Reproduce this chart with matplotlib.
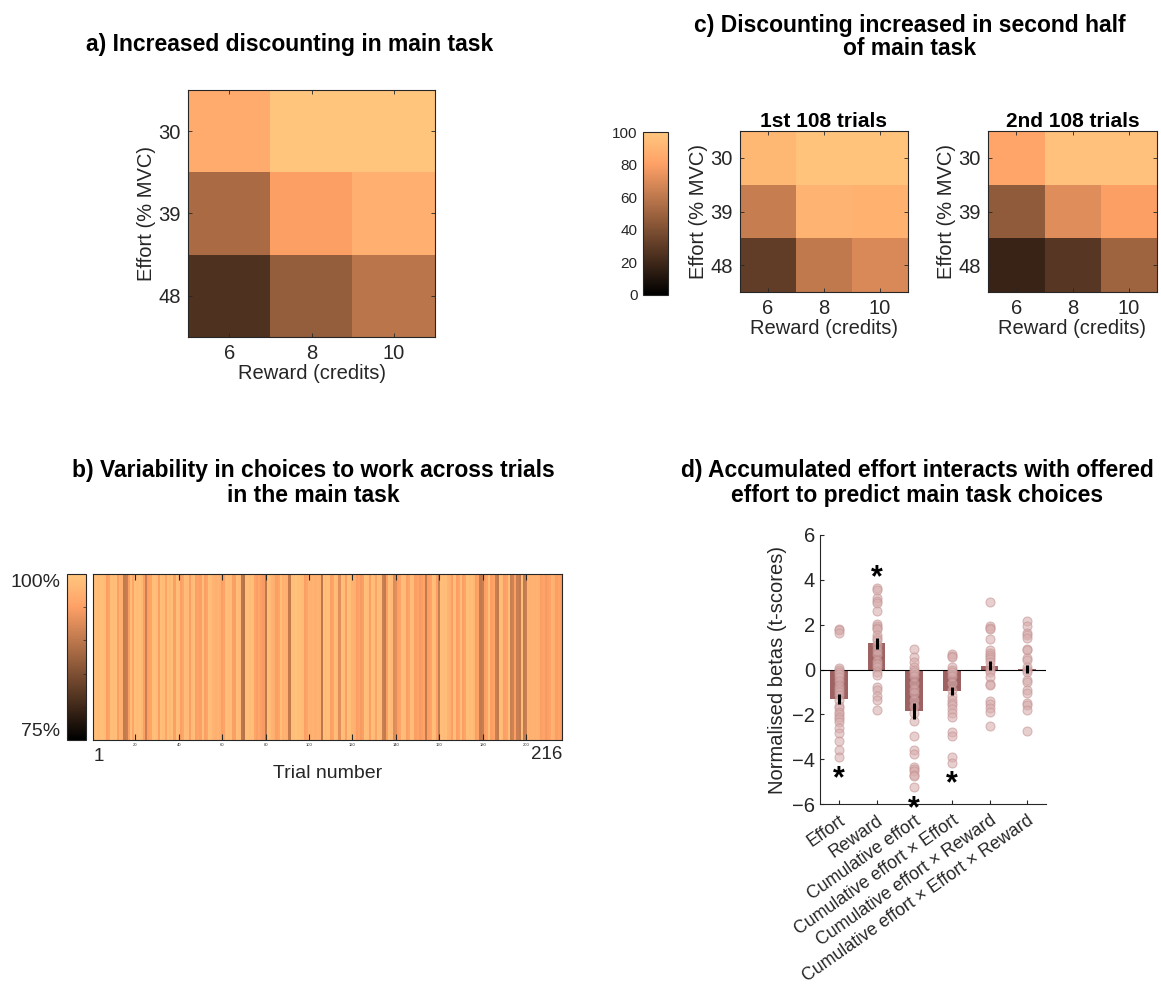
import numpy as np
import matplotlib
matplotlib.use('Agg')
import matplotlib.pyplot as plt
from matplotlib.colors import Normalize
from matplotlib.cm import ScalarMappable

plt.rcParams['font.family'] = ['Liberation Sans', 'DejaVu Sans']
plt.rcParams['axes.linewidth'] = 0.8

TXT = '#262626'
TITLE_FS = 16.5
LABEL_FS = 14.5

# ---------------- data ----------------
rewards = ['6', '8', '10']
efforts = ['30', '39', '48']
choice_main = [[86, 99, 99],
               [54, 80, 88],
               [25, 47, 59]]
choice_first = [[92, 98, 98],
                [63, 90, 89],
                [31, 61, 69]]
choice_second = [[83, 97, 97],
                 [46, 71, 80],
                 [18, 28, 50]]

trial_choice = [
    .99, .99, .985, .99, .99, .985, .95, .955, .99, .985, .99, .95, .975, .97, .905, .91, .95, .99,
    .955, .99, .985, .99, .98, .95, .91, .95, .955, .99, .99, .985, .95, .99, .985, .955, .99, .98,
    .99, .95, .99, .985, .95, .96, .99, .985, .95, .985, .99, .95, .955, .95, .99, .95, .955, .99, .985,
    .975, .97, .975, .97, .95, .955, .99, .985, .99, .95, .95, .99, .985, .9, .895, .99, .99, .985, .99,
    .955, .95, .96, .95, .945, .9, .99, .985, .975, .97, .95, .955, .99, .97, .975, .97, .905, .99,
    .99, .995, .99, .99, .985, .95, .955, .975, .97, .975, .97, .975, .97, .9, .99, .985, .99,
    .95, .955, .99, .985, .93, .99, .985, .95, .99, .99, .975, .97, .95, .955, .945, .95, .99, .985,
    .95, .99, .985, .955, .99, .985, .91, .905, .95, .99, .985, .925, .93, .95, .955, .99, .985, .95,
    .955, .99, .985, .95, .955, .945, .95, .955, .905, .95, .955, .99, .985, .95, .91, .99, .985, .99,
    .975, .97, .95, .99, .95, .955, .99, .95, .955, .99, .985, .99, .98, .95, .955, .905, .91, .95,
    .955, .99, .95, .955, .91, .905, .99, .985, .95, .955, .99, .91, .915, .95, .91, .905, .99, .905,
    .91, .975, .97, .975, .97, .975, .97, .95, .955, .945, .95, .955, .975, .97, .95, .955, .95,
]
assert len(trial_choice) == 216

predictors = ['Effort', 'Reward', 'Cumulative effort', 'Cumulative effort × Effort',
              'Cumulative effort × Reward', 'Cumulative effort × Effort × Reward']
beta_means = [-1.32, 1.16, -1.86, -0.95, 0.16, 0.02]
beta_sems = [0.21, 0.25, 0.35, 0.19, 0.20, 0.18]
betas_effort = [1.8, 1.75, 1.64, 0.05, 0.0, -0.1, -0.2, -0.35, -0.5, -0.72, -0.85, -1.0, -1.15,
                -1.35, -1.65, -1.7, -1.9, -2.0, -2.1, -2.2, -2.35, -2.6, -2.85, -3.2, -3.6, -3.9]
betas_reward = [3.62, 3.55, 3.2, 3.05, 2.95, 2.6, 2.05, 1.95, 1.85, 1.8, 1.55, 1.4, 1.3, 1.1,
                0.85, 0.7, 0.4, 0.25, 0.1, -0.1, -0.25, -0.8, -0.9, -1.2, -1.35, -1.8]
betas_cum = [0.93, 0.55, 0.35, 0.1, 0.0, -0.1, -0.3, -0.6, -0.85, -1.05, -1.35, -1.65, -1.95,
             -2.3, -2.95, -3.6, -3.75, -4.35, -4.45, -4.55, -4.7, -4.75, -5.25]
betas_cum_eff = [0.7, 0.62, 0.55, 0.1, 0.0, -0.1, -0.3, -0.6, -0.9, -1.2, -1.35, -1.5, -1.6,
                 -1.75, -1.95, -2.1, -2.8, -2.95, -3.9, -4.15]
betas_cum_rew = [3.02, 1.92, 1.87, 1.82, 1.35, 0.85, 0.75, 0.65, 0.55, 0.45, 0.35, 0.1, 0.0,
                 -0.1, -0.35, -0.65, -0.7, -1.4, -1.55, -1.7, -1.9, -2.5]
betas_cum_eff_rew = [2.15, 1.95, 1.65, 1.55, 1.4, 0.93, 0.85, 0.5, 0.42, 0.1, 0.0, -0.1, -0.45,
                     -0.55, -0.9, -1.05, -1.5, -1.6, -1.8, -2.75]
significant = [True, True, True, True, False, False]

# ---------------- figure ----------------
W, H = 1161, 991
fig = plt.figure(figsize=(W / 100, H / 100), dpi=100)


def px_axes(x0, y0, x1, y1):
    return fig.add_axes([x0 / W, 1 - y1 / H, (x1 - x0) / W, (y1 - y0) / H])


def style_heat(ax):
    ax.set_xticks(range(3))
    ax.set_xticklabels(rewards)
    ax.set_yticks(range(3))
    ax.set_yticklabels(efforts)
    ax.tick_params(direction='in', length=3, top=True, right=True, labelsize=LABEL_FS,
                   colors=TXT, labelcolor=TXT, pad=5, width=0.6)
    for s in ax.spines.values():
        s.set_color(TXT)
    ax.set_xlabel('Reward (credits)', fontsize=LABEL_FS, color=TXT, labelpad=1)
    ax.set_ylabel('Effort (% MVC)', fontsize=LABEL_FS, color=TXT, labelpad=2)


# panel a
ax_a = px_axes(188, 90, 435, 337)
ax_a.imshow(np.array(choice_main), cmap='copper', vmin=0, vmax=100, aspect='auto',
            interpolation='nearest')
style_heat(ax_a)
fig.text(290 / W, 1 - 45 / H, 'a) Increased discounting in main task', ha='center', va='center',
         fontsize=TITLE_FS, fontweight='bold')

# panel c
cax_c = px_axes(643, 132, 668, 295)
cb = fig.colorbar(ScalarMappable(norm=Normalize(0, 100), cmap='copper'), cax=cax_c)
cb.set_ticks([0, 20, 40, 60, 80, 100])
cax_c.yaxis.set_ticks_position('left')
cax_c.tick_params(direction='in', length=0, labelsize=11, colors=TXT, pad=4)
cb.outline.set_edgecolor(TXT)
cb.outline.set_linewidth(0.8)

ax_c1 = px_axes(740, 131, 908, 292)
ax_c1.imshow(np.array(choice_first), cmap='copper', vmin=0, vmax=100, aspect='auto',
             interpolation='nearest')
style_heat(ax_c1)
ax_c1.set_title('1st 108 trials', fontsize=15, fontweight='bold', pad=3)

ax_c2 = px_axes(988, 131, 1157, 292)
ax_c2.imshow(np.array(choice_second), cmap='copper', vmin=0, vmax=100, aspect='auto',
             interpolation='nearest')
style_heat(ax_c2)
ax_c2.set_title('2nd 108 trials', fontsize=15, fontweight='bold', pad=3)

fig.text(910 / W, 1 - 37 / H, 'c) Discounting increased in second half\nof main task', ha='center',
         va='center', fontsize=TITLE_FS, fontweight='bold', linespacing=1.05)

# panel b
cax_b = px_axes(67, 574, 86, 740)
cbb = fig.colorbar(ScalarMappable(norm=Normalize(0.75, 1.0), cmap='copper'), cax=cax_b)
cbb.set_ticks([0.75, 0.80, 0.85, 0.90, 0.95, 1.0])
cbb.set_ticklabels(['75%', '', '', '', '', '100%'])
cax_b.yaxis.set_ticks_position('both')
cax_b.tick_params(direction='in', length=2, labelsize=14, colors=TXT, labelleft=True,
                  labelright=False, left=False, right=True, pad=5, width=0.5)
lbls = cax_b.get_yticklabels()
lbls[0].set_va('bottom')
lbls[-1].set_va('top')
cbb.outline.set_edgecolor(TXT)
cbb.outline.set_linewidth(0.8)

ax_b = px_axes(93, 574, 562, 740)
ax_b.imshow(np.array(trial_choice)[None, :], cmap='copper', vmin=0.75, vmax=1.0, aspect='auto',
            interpolation='nearest', extent=(0.5, 216.5, 0, 1))
ax_b.set_xlim(0.5, 216.5)
ax_b.set_ylim(0, 1)
ax_b.set_yticks([])
ax_b.set_xticks(np.arange(20, 201, 20))
ax_b.set_xticklabels([str(v) for v in range(20, 201, 20)], fontsize=3, color='#999999')
ax_b.tick_params(direction='in', length=4, top=True, colors=TXT, pad=2, width=0.8)
for s in ax_b.spines.values():
    s.set_color(TXT)
ax_b.text(1, -0.1, '1', ha='left', va='center', fontsize=13.5, color=TXT,
          transform=ax_b.get_xaxis_transform())
ax_b.text(216.5, -0.085, '216', ha='right', va='center', fontsize=13.5, color=TXT,
          transform=ax_b.get_xaxis_transform())
ax_b.set_xlabel('Trial number', fontsize=14, color=TXT, labelpad=13)
fig.text(313 / W, 1 - 483 / H, 'b) Variability in choices to work across trials\nin the main task',
         ha='center', va='center', fontsize=TITLE_FS, fontweight='bold', linespacing=1.1)

# panel d
ax_d = px_axes(820, 535, 1046, 804)
all_betas = [betas_effort, betas_reward, betas_cum, betas_cum_eff, betas_cum_rew, betas_cum_eff_rew]
xpos = np.arange(1, len(predictors) + 1)
ax_d.bar(xpos, beta_means, width=0.47, color='#9E6262', zorder=2)
for x, pts in zip(xpos, all_betas):
    ax_d.scatter(np.full(len(pts), x), pts, s=42, facecolor='#D8AFAF', edgecolor='#C59494',
                 alpha=0.6, linewidths=0.8, zorder=3)
ax_d.axhline(0, color='black', lw=0.8, zorder=2.5)
for x, m, se in zip(xpos, beta_means, beta_sems):
    ax_d.plot([x, x], [m - se, m + se], color='black', lw=2.2, zorder=4, solid_capstyle='butt')
for x, pts, m, sig in zip(xpos, all_betas, beta_means, significant):
    if sig:
        y = (max(pts) + 0.72) if m > 0 else (min(pts) - 0.72)
        # '*' glyph sits high in its box: shift so its centre lands on y
        ax_d.text(x, y - 0.26, '*', ha='center', va='center', fontsize=22, fontweight='bold',
                  zorder=5, clip_on=False)
ax_d.set_xlim(0.5, 6.5)
ax_d.set_ylim(-6, 6)
ax_d.set_yticks([-6, -4, -2, 0, 2, 4, 6])
ax_d.set_xticks(xpos)
ax_d.tick_params(direction='in', length=3, colors=TXT, labelsize=LABEL_FS, width=0.8)
ax_d.set_xticklabels(predictors, rotation=35, ha='right', va='top', rotation_mode='anchor',
                     fontsize=12.8, color=TXT)
ax_d.tick_params(axis='x', pad=6)
for side in ['top', 'right']:
    ax_d.spines[side].set_visible(False)
for side in ['left', 'bottom']:
    ax_d.spines[side].set_color(TXT)
ax_d.set_ylabel('Normalised betas (t-scores)', fontsize=LABEL_FS, color=TXT, labelpad=4)
fig.text(917 / W, 1 - 483 / H,
         'd) Accumulated effort interacts with offered\neffort to predict main task choices',
         ha='center', va='center', fontsize=TITLE_FS, fontweight='bold', linespacing=1.1)

fig.savefig('out.png', dpi=100)
